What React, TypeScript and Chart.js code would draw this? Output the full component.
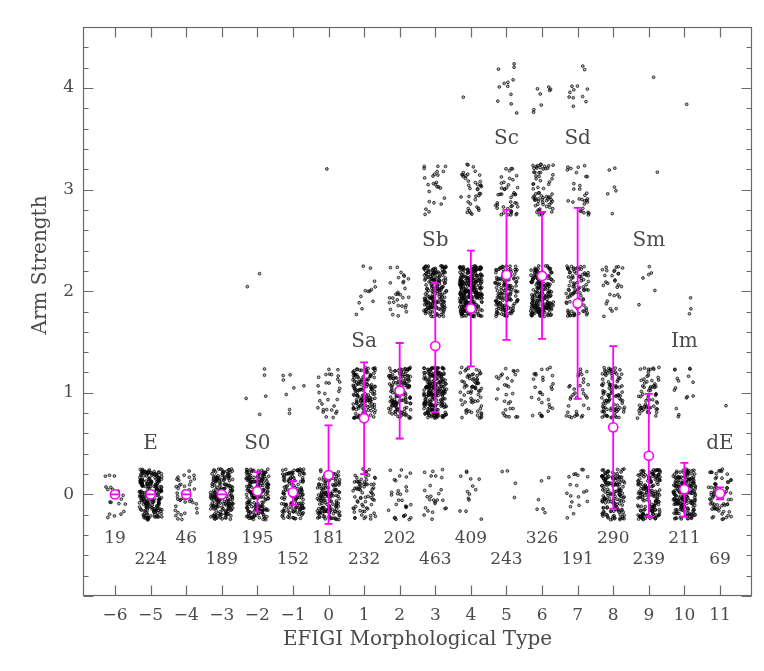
import React, { useEffect, useRef } from 'react';
import { Chart, registerables } from 'chart.js';

Chart.register(...registerables);

// EFIGI morphological types (x categories)
const types = [-6, -5, -4, -3, -2, -1, 0, 1, 2, 3, 4, 5, 6, 7, 8, 9, 10, 11];
// Arm strength levels
const levels = [0, 1, 2, 3, 4];
// Number of galaxies at each arm-strength level, per type
const countLevel0 = [19, 224, 46, 189, 188, 144, 150, 71, 30, 25, 14, 4, 6, 20, 154, 166, 191, 68];
const countLevel1 = [0, 0, 0, 0, 5, 8, 30, 148, 142, 230, 70, 30, 30, 35, 100, 65, 16, 1];
const countLevel2 = [0, 0, 0, 0, 2, 0, 0, 13, 30, 183, 284, 152, 212, 94, 30, 6, 3, 0];
const countLevel3 = [0, 0, 0, 0, 0, 0, 1, 0, 0, 25, 40, 45, 70, 30, 6, 1, 0, 0];
const countLevel4 = [0, 0, 0, 0, 0, 0, 0, 0, 0, 0, 1, 12, 8, 12, 0, 1, 1, 0];
// Mean arm strength and error bar ends per type
const meanStrength = [0, 0, 0, 0, 0.03, 0.02, 0.19, 0.75, 1.02, 1.46, 1.83, 2.16, 2.15, 1.88, 0.66, 0.38, 0.05, 0.01];
const errHigh = [0, 0, 0, 0, 0.22, 0.13, 0.68, 1.30, 1.49, 2.08, 2.40, 2.80, 2.78, 2.82, 1.46, 0.99, 0.31, 0.07];
const errLow = [0, 0, 0, 0, -0.17, -0.10, -0.29, 0.20, 0.55, 0.81, 1.26, 1.52, 1.53, 0.94, -0.14, -0.22, -0.22, -0.05];
// Hubble-class labels
const classNames = ['E', 'S0', 'Sa', 'Sb', 'Sc', 'Sd', 'Sm', 'Im', 'dE'];
const classTypes = [-5, -2, 1, 3, 5, 7, 9, 10, 11];
const classLevels = [0, 0, 1, 2, 3, 3, 2, 1, 0];

const countsByLevel = [countLevel0, countLevel1, countLevel2, countLevel3, countLevel4];

const FONT = '"DejaVu Serif", serif';
const TEXT = '#4a4a4a';
const AXIS = '#6a6a6a';

// deterministic display jitter (spreads points of one cell over its box)
function jitter(seed: number): number {
  let h = seed | 0;
  h = Math.imul(h ^ (h >>> 16), 0x45d9f3b);
  h = Math.imul(h ^ (h >>> 16), 0x45d9f3b);
  h ^= h >>> 16;
  return (h >>> 0) / 4294967296;
}

function buildPoints() {
  const pts: { x: number; y: number }[] = [];
  types.forEach((t, ti) => {
    levels.forEach((lv, li) => {
      const n = countsByLevel[li][ti];
      for (let k = 0; k < n; k++) {
        const s = (ti * 7919 + li * 104729 + k * 31337 + 17) * 3;
        pts.push({
          x: t + (jitter(s) - 0.5) * 0.64,
          y: lv + (jitter(s + 1) - 0.5) * 0.5,
        });
      }
    });
  });
  return pts;
}

const overlayPlugin = {
  id: 'overlay',
  afterDatasetsDraw(chart: any) {
    const { ctx } = chart;
    const xs = chart.scales.x;
    const ys = chart.scales.y;
    ctx.save();
    // error bars + means
    ctx.strokeStyle = '#ff00ff';
    types.forEach((t, i) => {
      const x = xs.getPixelForValue(t);
      const yl = ys.getPixelForValue(errLow[i]);
      const yh = ys.getPixelForValue(errHigh[i]);
      const ym = ys.getPixelForValue(meanStrength[i]);
      ctx.lineWidth = 1.8;
      ctx.beginPath();
      ctx.moveTo(x, yl);
      ctx.lineTo(x, yh);
      ctx.stroke();
      ctx.beginPath();
      ctx.arc(x, ym, 4.6, 0, Math.PI * 2);
      ctx.fillStyle = '#ffffff';
      ctx.fill();
      ctx.lineWidth = 1.6;
      ctx.stroke();
      ctx.lineWidth = 1.8;
      ctx.beginPath();
      ctx.moveTo(x - 4, yl);
      ctx.lineTo(x + 4, yl);
      ctx.moveTo(x - 4, yh);
      ctx.lineTo(x + 4, yh);
      ctx.stroke();
    });
    // class labels
    ctx.fillStyle = TEXT;
    ctx.font = `20px ${FONT}`;
    ctx.textAlign = 'center';
    ctx.textBaseline = 'middle';
    classNames.forEach((name, i) => {
      ctx.fillText(name, xs.getPixelForValue(classTypes[i]), ys.getPixelForValue(classLevels[i] + 0.5));
    });
    // totals
    ctx.font = `17px ${FONT}`;
    types.forEach((t, ti) => {
      const total = countsByLevel.reduce((s, arr) => s + arr[ti], 0);
      const row = ti % 2 === 0 ? -0.435 : -0.645;
      ctx.fillText(String(total), xs.getPixelForValue(t), ys.getPixelForValue(row));
    });
    ctx.restore();
  },
  afterDraw(chart: any) {
    const { ctx, chartArea: a } = chart;
    const xs = chart.scales.x;
    const ys = chart.scales.y;
    ctx.save();
    ctx.strokeStyle = AXIS;
    ctx.lineWidth = 1.2;
    const L = Math.round(a.left) + 0.5;
    const R = Math.round(a.right) - 0.5;
    const T = Math.round(a.top) + 0.5;
    const B = Math.round(a.bottom) - 0.5;
    ctx.strokeRect(L, T, R - L, B - T);
    ctx.beginPath();
    xs.ticks.forEach((tk: any) => {
      const x = Math.round(xs.getPixelForValue(tk.value)) + 0.5;
      ctx.moveTo(x, B);
      ctx.lineTo(x, B - 10);
      ctx.moveTo(x, T);
      ctx.lineTo(x, T + 10);
    });
    for (let v = -1; v <= 4.61; v += 0.2) {
      const vv = Math.round(v * 10) / 10;
      const major = Math.abs(vv - Math.round(vv)) < 1e-6;
      const len = major ? 10 : 5;
      const y = Math.round(ys.getPixelForValue(vv)) + 0.5;
      ctx.moveTo(L, y);
      ctx.lineTo(L + len, y);
      ctx.moveTo(R, y);
      ctx.lineTo(R - len, y);
    }
    ctx.stroke();
    // axis titles
    ctx.fillStyle = TEXT;
    ctx.font = `20px ${FONT}`;
    ctx.textAlign = 'center';
    ctx.textBaseline = 'middle';
    ctx.fillText('EFIGI Morphological Type', (a.left + a.right) / 2, 640);
    ctx.translate(41, 265);
    ctx.rotate(-Math.PI / 2);
    ctx.fillText('Arm Strength', 0, 0);
    ctx.restore();
  },
};

export default function App() {
  const ref = useRef<HTMLCanvasElement>(null);
  useEffect(() => {
    if (!ref.current) return;
    const chart = new Chart(ref.current, {
      type: 'scatter',
      data: {
        datasets: [
          {
            data: buildPoints(),
            pointRadius: 1.4,
            pointBorderWidth: 0.8,
            borderColor: 'rgba(0,0,0,0.9)',
            backgroundColor: 'rgba(0,0,0,0.3)',
            pointHoverRadius: 1.4,
          },
        ],
      },
      options: {
        responsive: false,
        animation: false,
        events: [],
        layout: { padding: { top: 27, right: 12, left: 0, bottom: 0 } },
        plugins: { legend: { display: false }, tooltip: { enabled: false } },
        scales: {
          x: {
            type: 'linear',
            min: -6.9,
            max: 11.9,
            grid: { display: false, drawTicks: false },
            border: { display: false },
            ticks: {
              stepSize: 1,
              includeBounds: false,
              padding: 9,
              color: TEXT,
              font: { family: FONT, size: 17 },
              maxRotation: 0,
              autoSkip: false,
              callback: (v: any) => String(v).replace('-', '\u2212'),
            },
            afterFit: (s: any) => {
              s.height = 75;
            },
          },
          y: {
            type: 'linear',
            min: -1,
            max: 4.6,
            grid: { display: false, drawTicks: false },
            border: { display: false },
            ticks: {
              stepSize: 1,
              includeBounds: false,
              padding: 9,
              color: TEXT,
              font: { family: FONT, size: 17 },
              callback: (v: any) => (v < 0 ? '' : String(v)),
            },
            afterFit: (s: any) => {
              s.width = 83;
            },
          },
        },
      },
      plugins: [overlayPlugin],
    });
    return () => chart.destroy();
  }, []);
  return (
    <div style={{ position: 'fixed', left: 0, top: 0, width: 764, height: 671, background: '#fff' }}>
      <canvas ref={ref} width={764} height={671} style={{ width: 764, height: 671 }} />
    </div>
  );
}
